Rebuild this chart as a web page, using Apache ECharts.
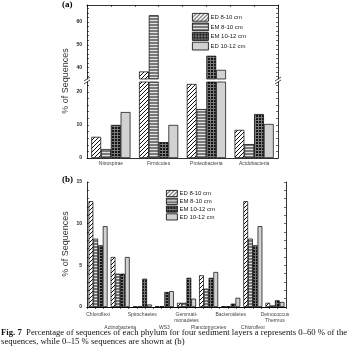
<!DOCTYPE html>
<html>
<head>
<meta charset="utf-8">
<script src="https://cdn.jsdelivr.net/npm/echarts@6.0.0/dist/echarts.min.js"></script>
<style>
  html, body { margin: 0; padding: 0; background: #fff; }
  #main { width: 350px; height: 362px; }
</style>
</head>
<body>
<div id="main"></div>
<script>
// panel (a) data, 0-60 %
var groupsA = ['Nitrospirae', 'Firmicutes', 'Proteobacteria', 'Acidobacteria'];
var ed810A = [6.4, 38.3, 22.4, 8.5];
var em810A = [2.7, 63, 14.8, 4.2];
var em1012A = [10, 4.8, 45.2, 13.3];
var ed1012A = [13.9, 10, 39, 10.3];

// panel (b) data, 0-15 %
var groupsB = ['Chloroflexi', 'Actinobacteria', 'Spirochaetes', 'WS3', 'Gemmati-\nmonadetes',
  'Planctomycetes', 'Bacteroidetes', 'Chloroflexi', 'Deinococcus\nThermus'];
var ed810B = [12.7, 6.0, 0.05, 0.1, 0.5, 3.8, 0.1, 12.7, 0.5];
var em810B = [8.2, 4.0, 0.05, 0.1, 0.5, 2.2, 0.1, 8.2, 0.2];
var em1012B = [7.4, 4.0, 3.4, 1.8, 3.5, 3.5, 0.4, 7.4, 0.8];
var ed1012B = [9.7, 6.0, 0.3, 1.9, 1.0, 4.2, 1.1, 9.7, 0.6];

var seriesNames = ['ED 8-10 cm', 'EM 8-10 cm', 'EM 10-12 cm', 'ED 10-12 cm'];

// tick labels
var ticksAUpper = [40, 50, 60];
var ticksALower = [0, 10, 20];
var ticksB = [0, 5, 10, 15];

function steps(from, to, step) {
  var out = [];
  for (var v = from; v <= to + 1e-9; v += step) out.push(+v.toFixed(3));
  return out;
}

// fill patterns
function makePattern(w, h, draw) {
  var c = document.createElement('canvas');
  c.width = w; c.height = h;
  draw(c.getContext('2d'));
  return { image: c, repeat: 'repeat' };
}
var hatch = makePattern(4, 4, function (g) {
  g.fillStyle = '#fff'; g.fillRect(0, 0, 4, 4);
  g.strokeStyle = '#111'; g.lineWidth = 1;
  g.beginPath();
  g.moveTo(-1, 5); g.lineTo(5, -1);
  g.moveTo(-1, 1); g.lineTo(1, -1);
  g.moveTo(3, 5); g.lineTo(5, 3);
  g.stroke();
});
var stripes = makePattern(2, 3, function (g) {
  g.fillStyle = '#7a7a7a'; g.fillRect(0, 0, 2, 3);
  g.fillStyle = '#e2e2e2'; g.fillRect(0, 2, 2, 1);
});
var grid = makePattern(3, 3, function (g) {
  g.fillStyle = '#151515'; g.fillRect(0, 0, 3, 3);
  g.fillStyle = '#7a7a7a'; g.fillRect(0, 0, 3, 1); g.fillRect(0, 0, 1, 3);
});
var fills = [hatch, stripes, grid, '#d2d2d2'];

var labelFont = { fontSize: 5, color: '#444', fontFamily: 'Liberation Sans' };

function barSeries(name, idx, data, xi, yi, catGap) {
  return {
    name: name, type: 'bar', xAxisIndex: xi, yAxisIndex: yi, data: data,
    barGap: '0%', barCategoryGap: catGap, clip: true,
    itemStyle: { color: fills[idx], borderColor: '#000', borderWidth: 0.7 },
    emphasis: { disabled: true }, animation: false
  };
}

function tickAxis(min, max, pos, gi, vals) {
  return {
    type: 'value', gridIndex: gi, position: pos, min: min, max: max,
    axisLine: { show: true, lineStyle: { color: '#000', width: 0.8 } },
    axisTick: { show: true, inside: true, length: 2, customValues: vals, lineStyle: { color: '#000', width: 0.6 } },
    axisLabel: { show: false }, splitLine: { show: false }
  };
}

var chartDom = document.getElementById('main');
var myChart = echarts.init(chartDom);
var option = {
  animation: false,
  grid: [
    { left: 87, top: 5, width: 191, height: 74 },
    { left: 87, top: 82, width: 191, height: 76 },
    { left: 87, top: 182, width: 199, height: 125 }
  ],
  legend: [
    {
      left: 192, top: 13, orient: 'vertical', itemWidth: 16, itemHeight: 7.8, itemGap: 1,
      data: seriesNames, selectedMode: false, icon: 'rect',
      textStyle: { fontSize: 6, color: '#222', fontFamily: 'Liberation Sans', padding: [0, 0, 0, -3] },
      itemStyle: { borderColor: '#000', borderWidth: 0.8 }, padding: 0
    },
    {
      left: 166, top: 190, orient: 'vertical', itemWidth: 11, itemHeight: 6.2, itemGap: 0.8,
      data: seriesNames, selectedMode: false, icon: 'rect',
      textStyle: { fontSize: 6, color: '#222', fontFamily: 'Liberation Sans', padding: [0, 0, 0, -3] },
      itemStyle: { borderColor: '#000', borderWidth: 0.8 }, padding: 0
    }
  ],
  xAxis: [
    { type: 'category', gridIndex: 0, data: groupsA, show: false },
    { type: 'value', gridIndex: 0, position: 'top', min: 0, max: 8,
      axisLine: { lineStyle: { color: '#000', width: 0.8 } },
      axisTick: { inside: true, length: 2, customValues: steps(0, 8, 1), lineStyle: { color: '#000', width: 0.6 } },
      axisLabel: { show: false }, splitLine: { show: false } },
    { type: 'category', gridIndex: 1, data: groupsA,
      axisLine: { lineStyle: { color: '#000', width: 0.8 } },
      axisTick: { inside: true, length: 3, lineStyle: { color: '#000', width: 0.6 } },
      axisLabel: Object.assign({ margin: 3, interval: 0 }, labelFont) },
    { type: 'category', gridIndex: 2, data: groupsB,
      axisLine: { lineStyle: { color: '#000', width: 0.8 } },
      axisTick: { inside: true, length: 3, lineStyle: { color: '#000', width: 0.6 } },
      axisLabel: Object.assign({ margin: 4, interval: 0, lineHeight: 6.5,
        formatter: function (v, i) { return i % 2 ? '\n\n' + v : v; } }, labelFont) },
    { type: 'value', gridIndex: 2, position: 'top', min: 0, max: 24,
      axisLine: { lineStyle: { color: '#000', width: 0.8 } },
      axisTick: { inside: true, length: 2, customValues: steps(0, 24, 1), lineStyle: { color: '#000', width: 0.6 } },
      axisLabel: { show: false }, splitLine: { show: false } }
  ],
  yAxis: [
    { type: 'value', gridIndex: 0, min: 35, max: 67.5,
      axisLine: { show: true, lineStyle: { color: '#000', width: 0.8 } },
      axisTick: { show: true, inside: true, length: 2, customValues: steps(36, 66, 2), lineStyle: { color: '#000', width: 0.6 } },
      axisLabel: Object.assign({ customValues: ticksAUpper, margin: 5, fontWeight: 'bold' }, labelFont, { color: '#222' }),
      splitLine: { show: false } },
    tickAxis(35, 67.5, 'right', 0, steps(36, 66, 2)),
    { type: 'value', gridIndex: 1, min: 0, max: 23,
      axisLine: { show: true, lineStyle: { color: '#000', width: 0.8 } },
      axisTick: { show: true, inside: true, length: 2, customValues: steps(0, 22, 2), lineStyle: { color: '#000', width: 0.6 } },
      axisLabel: Object.assign({ customValues: ticksALower, margin: 5, fontWeight: 'bold' }, labelFont, { color: '#222' }),
      splitLine: { show: false } },
    tickAxis(0, 23, 'right', 1, steps(0, 22, 2)),
    { type: 'value', gridIndex: 2, min: 0, max: 15, interval: 5,
      axisLine: { show: true, lineStyle: { color: '#000', width: 0.8 } },
      axisTick: { show: true, inside: true, length: 2, customValues: steps(0, 15, 1), lineStyle: { color: '#000', width: 0.6 } },
      axisLabel: Object.assign({ customValues: ticksB, margin: 5, fontWeight: 'bold' }, labelFont, { color: '#222' }),
      splitLine: { show: false } },
    tickAxis(0, 15, 'right', 2, steps(0, 15, 1))
  ],
  series: [
    barSeries(seriesNames[0], 0, ed810A, 0, 0, '18%'),
    barSeries(seriesNames[1], 1, em810A, 0, 0, '18%'),
    barSeries(seriesNames[2], 2, em1012A, 0, 0, '18%'),
    barSeries(seriesNames[3], 3, ed1012A, 0, 0, '18%'),
    barSeries(seriesNames[0], 0, ed810A, 2, 2, '18%'),
    barSeries(seriesNames[1], 1, em810A, 2, 2, '18%'),
    barSeries(seriesNames[2], 2, em1012A, 2, 2, '18%'),
    barSeries(seriesNames[3], 3, ed1012A, 2, 2, '18%'),
    barSeries(seriesNames[0], 0, ed810B, 3, 4, '14%'),
    barSeries(seriesNames[1], 1, em810B, 3, 4, '14%'),
    barSeries(seriesNames[2], 2, em1012B, 3, 4, '14%'),
    barSeries(seriesNames[3], 3, ed1012B, 3, 4, '14%')
  ],
  graphic: [
    { type: 'text', left: 62, top: 0, style: { text: '(a)', font: 'bold 9px "Liberation Serif"', fill: '#000' } },
    { type: 'text', left: 62, top: 175, style: { text: '(b)', font: 'bold 9px "Liberation Serif"', fill: '#000' } },
    { type: 'text', x: 66, y: 81, rotation: Math.PI / 2,
      style: { text: '% of Sequences', font: '9px "Liberation Sans"', fill: '#333', textAlign: 'center', textVerticalAlign: 'middle' } },
    { type: 'text', x: 66, y: 244, rotation: Math.PI / 2,
      style: { text: '% of Sequences', font: '9px "Liberation Sans"', fill: '#333', textAlign: 'center', textVerticalAlign: 'middle' } },
    // axis break marks
    { type: 'line', shape: { x1: 84, y1: 81, x2: 90, y2: 77 }, style: { stroke: '#000', lineWidth: 0.7 } },
    { type: 'line', shape: { x1: 84, y1: 84, x2: 90, y2: 80 }, style: { stroke: '#000', lineWidth: 0.7 } },
    { type: 'line', shape: { x1: 275, y1: 81, x2: 281, y2: 77 }, style: { stroke: '#000', lineWidth: 0.7 } },
    { type: 'line', shape: { x1: 275, y1: 84, x2: 281, y2: 80 }, style: { stroke: '#000', lineWidth: 0.7 } },
    { type: 'text', left: 1, top: 328,
      style: {
        text: '{b|Fig. 7}  Percentage of sequences of each phylum for four sediment layers a represents 0\u201360 % of the\nsequences, while 0\u201315 % sequences are shown at (b)',
        font: '8.7px "Liberation Serif"', fill: '#111', lineHeight: 9,
        rich: { b: { fontWeight: 'bold', fontSize: 8.7, fontFamily: 'Liberation Serif' } }
      } }
  ]
};

option && myChart.setOption(option);
window.addEventListener('resize', function () { myChart.resize(); });
</script>
</body>
</html>
